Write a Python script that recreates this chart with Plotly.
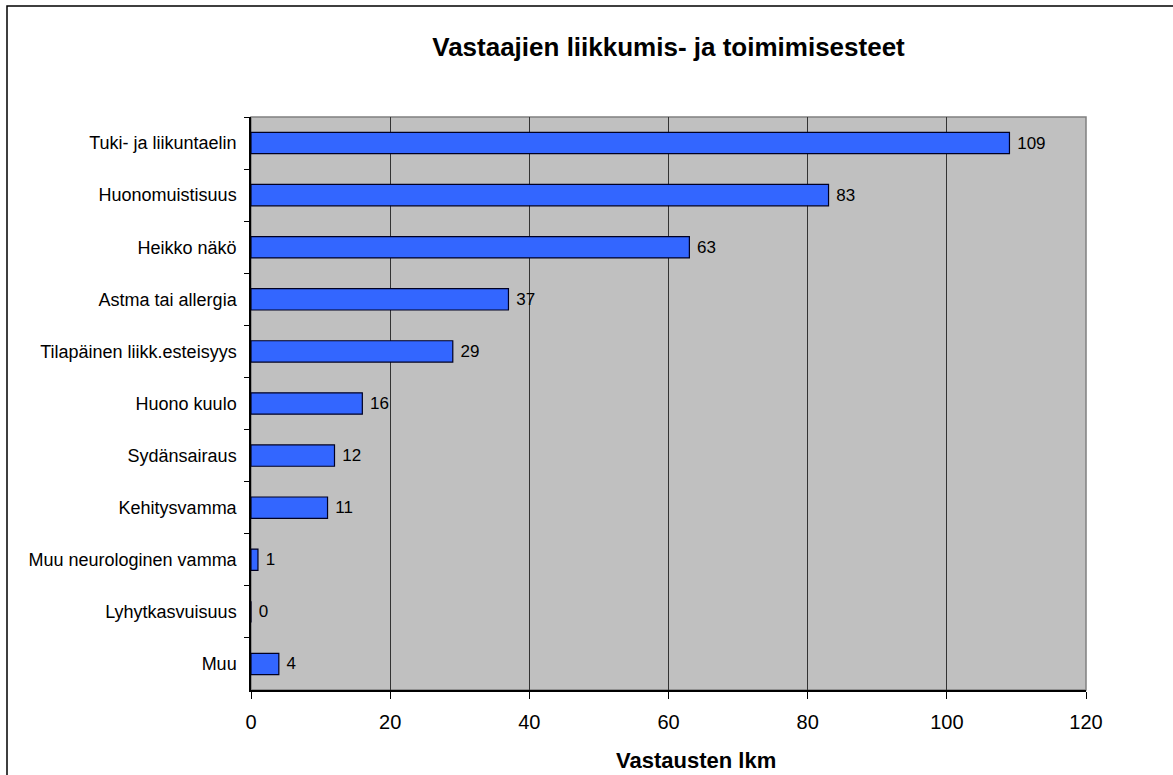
import plotly.graph_objects as go

categories = ["Tuki- ja liikuntaelin", "Huonomuistisuus", "Heikko näkö", "Astma tai allergia",
              "Tilapäinen liikk.esteisyys", "Huono kuulo", "Sydänsairaus", "Kehitysvamma",
              "Muu neurologinen vamma", "Lyhytkasvuisuus", "Muu"]
values = [109, 83, 63, 37, 29, 16, 12, 11, 1, 0, 4]
x_ticks = [0, 20, 40, 60, 80, 100, 120]
title_text = "Vastaajien liikkumis- ja toimimisesteet"
x_title = "Vastausten lkm"

W, H = 1173, 775
L, R, T, B = 251, 87, 117, 85
pw, ph = W - L - R, H - T - B

FONT = "Liberation Sans, Arial, sans-serif"

fig = go.Figure(go.Bar(
    y=categories, x=values, orientation="h",
    width=0.41,
    marker=dict(color="#3366FF", line=dict(color="#000022", width=1.2)),
    text=["\u00a0" + str(v) for v in values], textposition="outside",
    textfont=dict(family=FONT, size=17, color="black"),
    cliponaxis=False,
))

def px_to_paper_x(px):
    return (px - L) / pw

def px_to_paper_y(py):
    return (H - B - py) / ph

fig.update_layout(
    width=W, height=H,
    margin=dict(l=L, r=R, t=T, b=B, autoexpand=False),
    paper_bgcolor="white", plot_bgcolor="#C0C0C0",
    showlegend=False,
    font=dict(family=FONT, color="black"),
    title=dict(text="<b>" + title_text + "</b>", x=0.5, xref="paper",
               y=1 - 47 / H, yref="container", yanchor="middle", xanchor="center",
               font=dict(family=FONT, size=26, color="black")),
    xaxis=dict(range=[0, 120], tickvals=x_ticks, ticktext=[str(t) for t in x_ticks],
               showgrid=True, gridcolor="#333333", gridwidth=1,
               zeroline=False, showline=True, linecolor="black", linewidth=1.5,
               ticks="outside", ticklen=7, tickcolor="black", tickwidth=1,
               ticklabelstandoff=6,
               tickfont=dict(family=FONT, size=20, color="black")),
    yaxis=dict(categoryorder="array", categoryarray=categories, autorange="reversed",
               tickson="boundaries", ticks="outside", ticklen=5, tickcolor="black",
               showline=True, linecolor="black", linewidth=1.5, showgrid=False,
               ticklabelstandoff=9,
               tickfont=dict(family=FONT, size=18, color="black")),
    shapes=[
        dict(type="rect", xref="paper", yref="paper", x0=0, x1=1, y0=0, y1=1,
             line=dict(color="#808080", width=1.5), layer="below"),
        dict(type="rect", xref="paper", yref="paper",
             x0=px_to_paper_x(7), x1=px_to_paper_x(W + 10),
             y0=px_to_paper_y(H + 10), y1=px_to_paper_y(6),
             line=dict(color="black", width=1.5), layer="below"),
    ],
    annotations=[
        dict(text="<b>" + x_title + "</b>", xref="paper", yref="paper",
             x=px_to_paper_x(696), y=px_to_paper_y(760), showarrow=False,
             xanchor="center", yanchor="middle",
             font=dict(family=FONT, size=22, color="black")),
    ],
)

fig.write_html("out.html")
